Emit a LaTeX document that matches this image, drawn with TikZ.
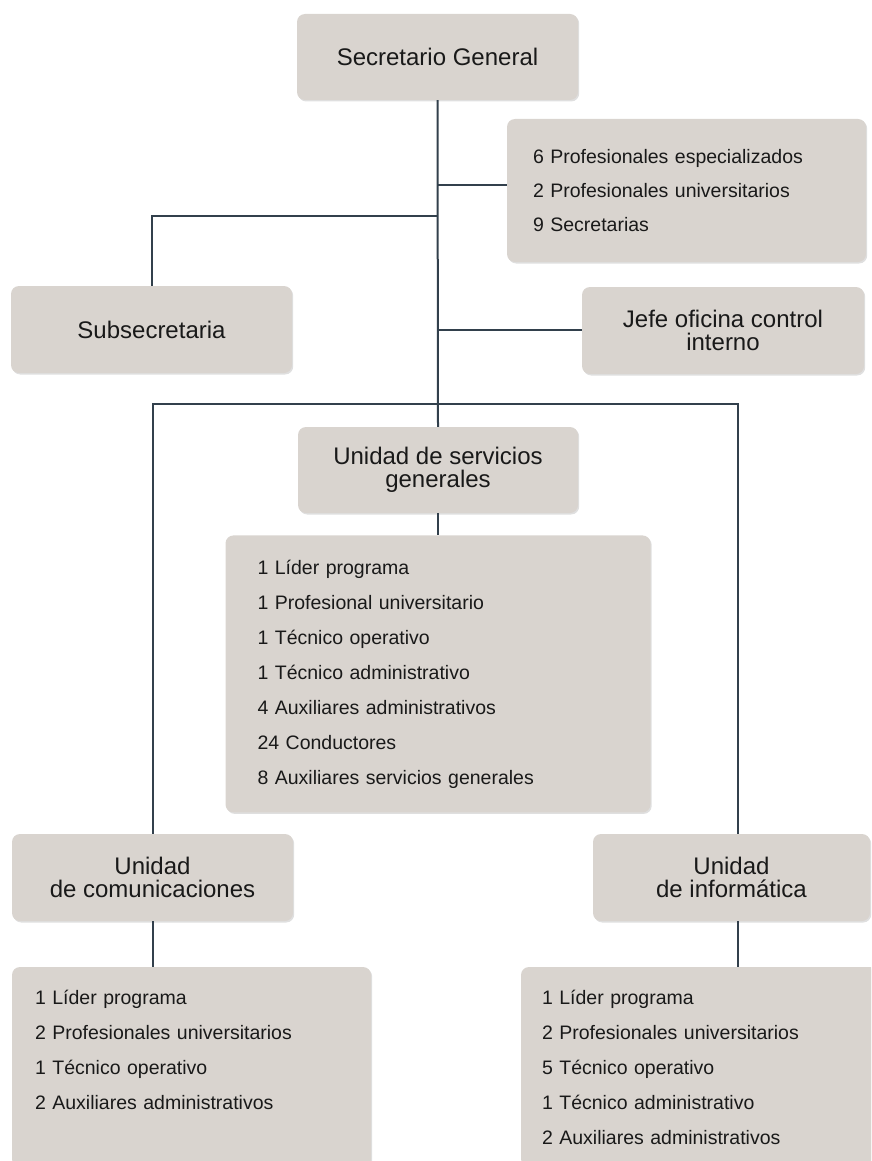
\documentclass[tikz,border=0pt]{standalone}
\usepackage{fontspec}
\setmainfont{Liberation Sans}
\usetikzlibrary{shadows,positioning}
\definecolor{boxgray}{RGB}{217,212,207}
\definecolor{linkslate}{RGB}{50,64,76}
\definecolor{txtdark}{RGB}{25,25,25}

\begin{document}
\begin{tikzpicture}[x=1pt, y=-1pt]
    \tikzstyle{unit} = [rectangle, fill=boxgray, rounded corners=8pt, text=txtdark, align=center, font=\fontsize{24}{22.5}\selectfont, minimum height=87pt, drop shadow={shadow xshift=1.2pt, shadow yshift=-1.5pt, opacity=0.25}]
    \tikzstyle{staff} = [rectangle, fill=boxgray, rounded corners=8pt, text=txtdark, align=left, font=\fontsize{19.5}{35}\selectfont, drop shadow={shadow xshift=1.2pt, shadow yshift=-1.5pt, opacity=0.25}]
    \tikzstyle{link} = [draw=linkslate, line width=2pt]

    \useasboundingbox (0,0) rectangle (871,1161);
    \clip (0,0) rectangle (871,1161);

    % top level
    \node [unit, minimum width=281pt, minimum height=86pt] (sg) at (437.5,57) {Secretario General};
    \node [staff, minimum width=359pt, minimum height=143pt, inner xsep=26pt, text width=307pt, font=\fontsize{19.5}{34}\selectfont] (sgstaff) at (686.5,190.5) {6 Profesionales especializados\\2 Profesionales universitarios\\9 Secretarias};
    \node [unit, minimum width=281pt] (subsec) at (151.5,329.5) {Subsecretaria};
    \node [unit, minimum width=282pt] (jefe) at (723,330.5) {Jefe oficina control\\interno};

    % units
    \node [unit, minimum width=280pt, minimum height=86pt] (usg) at (438,470) {Unidad de servicios\\generales};
    \node [staff, below=22pt of usg, minimum width=425pt, minimum height=277pt, inner xsep=32pt, text width=361pt] (usgstaff) {1 Líder programa\\1 Profesional universitario\\1 Técnico operativo\\1 Técnico administrativo\\4 Auxiliares administrativos\\24 Conductores\\8 Auxiliares servicios generales};
    \node [unit, minimum width=281pt] (ucom) at (152.5,877.5) {Unidad\\de comunicaciones};
    \node [unit, minimum width=277pt] (uinf) at (731.5,877.5) {Unidad\\de informática};
    \node [staff, minimum width=359pt, minimum height=200pt, inner xsep=23pt, text width=313pt] (comstaff) at (191.5,1067) {1 Líder programa\\2 Profesionales universitarios\\1 Técnico operativo\\2 Auxiliares administrativos\\\mbox{}};
    \node [staff, minimum width=359pt, minimum height=200pt, inner xsep=21pt, text width=317pt] (infstaff) at (700.5,1067) {1 Líder programa\\2 Profesionales universitarios\\5 Técnico operativo\\1 Técnico administrativo\\2 Auxiliares administrativos};

    % connectors
    \coordinate (bus) at (437,404);
    \draw [link] (sg.south) -- (usg.north);
    \draw [link] (sgstaff.west |- 0,185) -- (sg.south |- 0,185);
    \draw [link] (sg.south |- 0,216) -| (subsec.north);
    \draw [link] (jefe.west |- 0,329.5) -- (sg.south |- 0,329.5);
    \draw [link] (ucom.north) |- (bus) -| ([xshift=6pt]uinf.north);
    \draw [link] (usg.south) -- (usgstaff.north);
    \draw [link] (ucom.south) -- (ucom.south |- comstaff.north);
    \draw [link] ([xshift=6pt]uinf.south) -- ([xshift=6pt]uinf.south |- infstaff.north);
\end{tikzpicture}
\end{document}
